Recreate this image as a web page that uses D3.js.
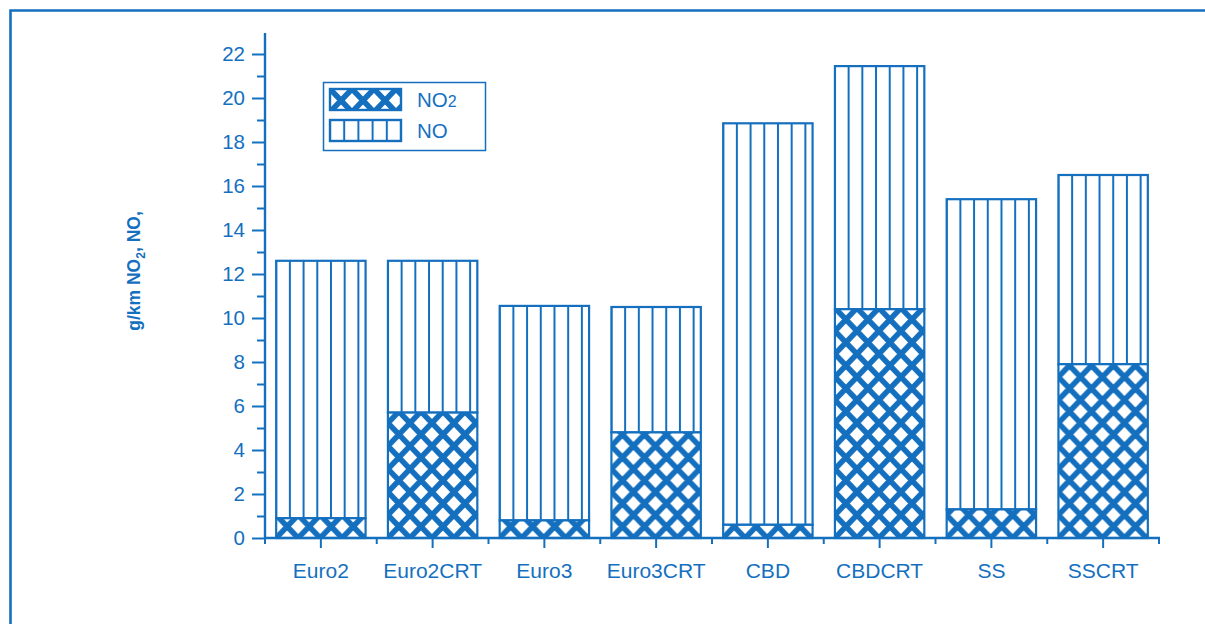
<!DOCTYPE html>
<html>
<head>
<meta charset="utf-8">
<script src="https://cdn.jsdelivr.net/npm/d3@7"></script>
<style>
  html, body { margin: 0; padding: 0; background: #fff; }
  svg { display: block; }
  text { font-family: "Liberation Sans", Arial, Helvetica, sans-serif; fill: #1470bf; }
</style>
</head>
<body>
<svg id="chart" width="1205" height="624"></svg>
<script>
// ---- data ----
const categories = ["Euro2", "Euro2CRT", "Euro3", "Euro3CRT", "CBD", "CBDCRT", "SS", "SSCRT"];
const no2Values = [0.9, 5.7, 0.8, 4.8, 0.6, 10.4, 1.3, 7.9];
const noValues  = [11.7, 6.9, 9.75, 5.7, 18.25, 11.05, 14.1, 8.6];
const yMajorTicks = [0, 2, 4, 6, 8, 10, 12, 14, 16, 18, 20, 22];
const yMinorTicks = [1, 3, 5, 7, 9, 11, 13, 15, 17, 19, 21];
const legendItems = ["NO2", "NO"];

const BLUE = "#1470bf";
const svg = d3.select("#chart");

// outer frame
svg.append("path")
  .attr("d", "M10.5,640 V10.5 H1220")
  .attr("fill", "none").attr("stroke", BLUE).attr("stroke-width", 2.6);

const x0 = 265, x1 = 1159, yBase = 538, yTop = 33;
const x = d3.scaleBand().domain(categories).range([x0, x1]).paddingInner(0.2).paddingOuter(0.1);
const y = d3.scaleLinear().domain([0, 23]).range([yBase, yBase - 23 * 22]);

const defs = svg.append("defs");

// cross-hatch pattern
const A = 22, B = 23;
function crossPattern(id, ox, oy) {
  const p = defs.append("pattern").attr("id", id)
    .attr("patternUnits", "userSpaceOnUse")
    .attr("x", ox).attr("y", oy).attr("width", A).attr("height", B);
  p.append("rect").attr("width", A).attr("height", B).attr("fill", "#fff");
  let d = "";
  for (const k of [-1, 0, 1]) d += `M${-A},${-B + k * B} L${2 * A},${2 * B + k * B} `;
  for (const k of [0, 1, 2]) d += `M${-A},${2 * B + (k - 1) * B} L${2 * A},${-B + (k - 1) * B} `;
  p.append("path").attr("d", d).attr("stroke", BLUE).attr("stroke-width", 5.6).attr("fill", "none");
}
function vertPattern(id, ox, period) {
  const p = defs.append("pattern").attr("id", id)
    .attr("patternUnits", "userSpaceOnUse")
    .attr("x", ox).attr("y", 0).attr("width", period).attr("height", 10);
  p.append("rect").attr("width", period).attr("height", 10).attr("fill", "#fff");
  p.append("rect").attr("x", 0).attr("width", 1).attr("height", 10).attr("fill", BLUE);
  p.append("rect").attr("x", period - 1).attr("width", 1).attr("height", 10).attr("fill", BLUE);
}

const rows = categories.map((c, i) => ({ c, no2: no2Values[i], no: noValues[i], i }));

rows.forEach(r => {
  vertPattern("vp" + r.i, x(r.c), 13.7);
  crossPattern("cp" + r.i, x(r.c), yBase);
});

const bars = svg.append("g");
// NO segment (top)
bars.selectAll("rect.no").data(rows).join("rect").attr("class", "no")
  .attr("x", d => x(d.c))
  .attr("width", x.bandwidth())
  .attr("y", d => y(d.no2 + d.no))
  .attr("height", d => y(d.no2) - y(d.no2 + d.no))
  .attr("fill", d => `url(#vp${d.i})`)
  .attr("stroke", BLUE).attr("stroke-width", 2.2);
// NO2 segment (bottom)
bars.selectAll("rect.no2").data(rows).join("rect").attr("class", "no2")
  .attr("x", d => x(d.c))
  .attr("width", x.bandwidth())
  .attr("y", d => y(d.no2))
  .attr("height", d => y(0) - y(d.no2))
  .attr("fill", d => `url(#cp${d.i})`)
  .attr("stroke", BLUE).attr("stroke-width", 2.2);

// y axis
const yAxisG = svg.append("g").attr("transform", `translate(${x0},0)`);
yAxisG.call(d3.axisLeft(y).tickValues(yMajorTicks).tickSize(13).tickPadding(7).tickFormat(d3.format("d")));
yAxisG.append("g").call(d3.axisLeft(y).tickValues(yMinorTicks).tickSize(8).tickFormat(""));
yAxisG.selectAll(".domain").remove();
yAxisG.append("line").attr("x1", 0).attr("x2", 0).attr("y1", yBase + 1).attr("y2", yTop)
  .attr("stroke", BLUE).attr("stroke-width", 2.4);
yAxisG.selectAll(".tick line").attr("stroke", BLUE).attr("stroke-width", 2);
yAxisG.selectAll(".tick text").attr("font-size", 20.5).attr("fill", BLUE)
  .style("font-family", "'Liberation Sans', Arial, sans-serif");

// x axis
const xAxisG = svg.append("g").attr("transform", `translate(0,${yBase})`);
xAxisG.call(d3.axisBottom(x).tickSize(10).tickPadding(15));
xAxisG.selectAll(".domain").remove();
xAxisG.append("line").attr("x1", x0 - 1).attr("x2", x1 + 1).attr("y1", 0).attr("y2", 0)
  .attr("stroke", BLUE).attr("stroke-width", 2.4);
const boundaries = d3.range(categories.length + 1).map(i => x0 + i * x.step());
xAxisG.selectAll("line.minor").data(boundaries).join("line").attr("class", "minor")
  .attr("x1", d => d).attr("x2", d => d).attr("y1", 0).attr("y2", 6)
  .attr("stroke", BLUE).attr("stroke-width", 2);
xAxisG.selectAll(".tick line").attr("stroke", BLUE).attr("stroke-width", 2);
xAxisG.selectAll(".tick text").attr("font-size", 21).attr("fill", BLUE)
  .style("font-family", "'Liberation Sans', Arial, sans-serif");

// y label
const yl = svg.append("text")
  .attr("transform", "translate(140,271) rotate(-90)")
  .attr("text-anchor", "middle")
  .attr("font-size", 17.5).attr("font-weight", "bold");
yl.append("tspan").text("g/km NO");
yl.append("tspan").attr("font-size", 12).attr("dy", 5).text("2");
yl.append("tspan").attr("dy", -5).text(", NO,");

// legend
const lg = svg.append("g");
lg.append("rect").attr("x", 323.5).attr("y", 82.5).attr("width", 162).attr("height", 68)
  .attr("fill", "#fff").attr("stroke", BLUE).attr("stroke-width", 1.5);
crossPattern("lgc", 330, 89);
vertPattern("lgv", 330, 14.2);
const swY = [89, 120];
lg.selectAll("rect.sw").data(legendItems).join("rect").attr("class", "sw")
  .attr("x", 330).attr("y", (d, i) => swY[i]).attr("width", 71).attr("height", 21)
  .attr("fill", (d, i) => i === 0 ? "url(#lgc)" : "url(#lgv)")
  .attr("stroke", BLUE).attr("stroke-width", 2.4);
const lt = lg.selectAll("text.lt").data(legendItems).join("text").attr("class", "lt")
  .attr("x", 417).attr("y", (d, i) => swY[i] + 18).attr("font-size", 20.5);
lt.each(function(d) {
  const t = d3.select(this);
  if (d === "NO2") {
    t.append("tspan").text("NO");
    t.append("tspan").attr("font-size", 16).text("2");
  } else {
    t.text(d);
  }
});
</script>
</body>
</html>
